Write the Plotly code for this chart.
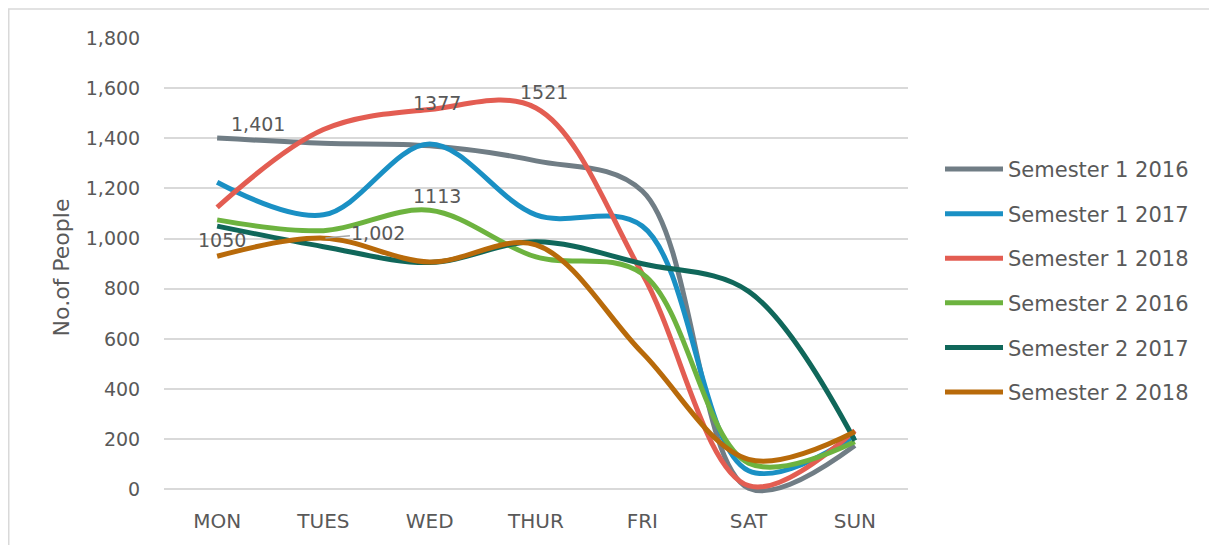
import plotly.graph_objects as go

days = ["MON", "TUES", "WED", "THUR", "FRI", "SAT", "SUN"]
series_names = ["Semester 1 2016", "Semester 1 2017", "Semester 1 2018",
                "Semester 2 2016", "Semester 2 2017", "Semester 2 2018"]
s1_2016 = [1401, 1380, 1370, 1310, 1190, 5, 175]
s1_2017 = [1225, 1095, 1377, 1095, 1050, 75, 215]
s1_2018 = [1125, 1435, 1515, 1521, 860, 15, 235]
s2_2016 = [1075, 1032, 1113, 927, 860, 105, 190]
s2_2017 = [1050, 968, 905, 988, 900, 790, 195]
s2_2018 = [930, 1002, 907, 975, 545, 120, 230]
colors = ["#707D85", "#1A90C4", "#E35D52", "#6DB33F", "#10675A", "#B86A0A"]
y_ticks = [0, 200, 400, 600, 800, 1000, 1200, 1400, 1600, 1800]

all_series = [s1_2016, s1_2017, s1_2018, s2_2016, s2_2017, s2_2018]

FONT = "DejaVu Sans"
TXT = "#595959"

# page has an 8px body margin; figure drawn in figure coordinates
W, H = 1209, 537
ML, MR, MT, MB = 156, 309, 30, 47.5

fig = go.Figure()
for i, (name, vals, col) in enumerate(zip(series_names, all_series, colors)):
    fig.add_trace(go.Scatter(
        x=days, y=vals, name=name, mode="lines",
        line=dict(color=col, width=5, shape="spline", smoothing=1.0),
        legendgroup=f"g{i}",
    ))

# data labels (series index, day index, text, xshift, yshift)
labels = [
    (0, 0, "1,401", 41, 14),
    (4, 0, "1050", 5, -14),
    (1, 2, "1377", 7, 41),
    (3, 2, "1113", 7, 14.5),
    (2, 3, "1521", 8, 16),
]
for si, di, txt, xs, ys in labels:
    fig.add_annotation(x=days[di], y=all_series[si][di], text=txt, showarrow=False,
                       xshift=xs, yshift=ys, font=dict(family=FONT, size=19, color=TXT))
fig.add_annotation(x=days[1], y=s2_2018[1], text="1,002", showarrow=True,
                   ax=55, ay=-5, axref="pixel", ayref="pixel", arrowhead=0,
                   arrowwidth=1.5, arrowcolor="#A6A6A6", standoff=2,
                   font=dict(family=FONT, size=19, color=TXT))

pw = W - ML - MR
ph = H - MT - MB
fig.add_shape(type="rect", xref="paper", yref="paper",
              x0=(0.75 - ML) / pw, x1=(1240 - ML) / pw,
              y0=(H - MB - 570) / ph, y1=(H - MB - 1) / ph,
              line=dict(color="#D9D9D9", width=1.5), fillcolor="rgba(0,0,0,0)", layer="below")

fig.update_layout(
    width=W, height=H,
    margin=dict(l=ML, r=MR, t=MT, b=MB, pad=0, autoexpand=False),
    paper_bgcolor="white", plot_bgcolor="white",
    font=dict(family=FONT, color=TXT),
    showlegend=True,
    legend=dict(x=(932 - ML) / pw, xanchor="left", y=(H - MB - 141) / ph, yanchor="top",
                font=dict(family=FONT, size=21, color=TXT),
                tracegroupgap=14.3, itemwidth=58, bgcolor="rgba(0,0,0,0)"),
    xaxis=dict(range=[-0.5, 6.5], showgrid=False, zeroline=False, showline=False,
               ticks="outside", ticklen=5.5, tickcolor="rgba(0,0,0,0)", automargin=False,
               tickfont=dict(family=FONT, size=20, color=TXT), fixedrange=True),
    yaxis=dict(range=[-30, 1800], tickvals=y_ticks, tickformat=",d", automargin=False,
               showgrid=True, gridcolor="#D9D9D9", gridwidth=1.5, zeroline=False, showline=False,
               ticks="outside", ticklen=19, tickcolor="rgba(0,0,0,0)",
               tickfont=dict(family=FONT, size=19, color=TXT),
               title=dict(text="No.of People", font=dict(family=FONT, size=22, color=TXT), standoff=10)),
)

fig.write_html("out.html")
